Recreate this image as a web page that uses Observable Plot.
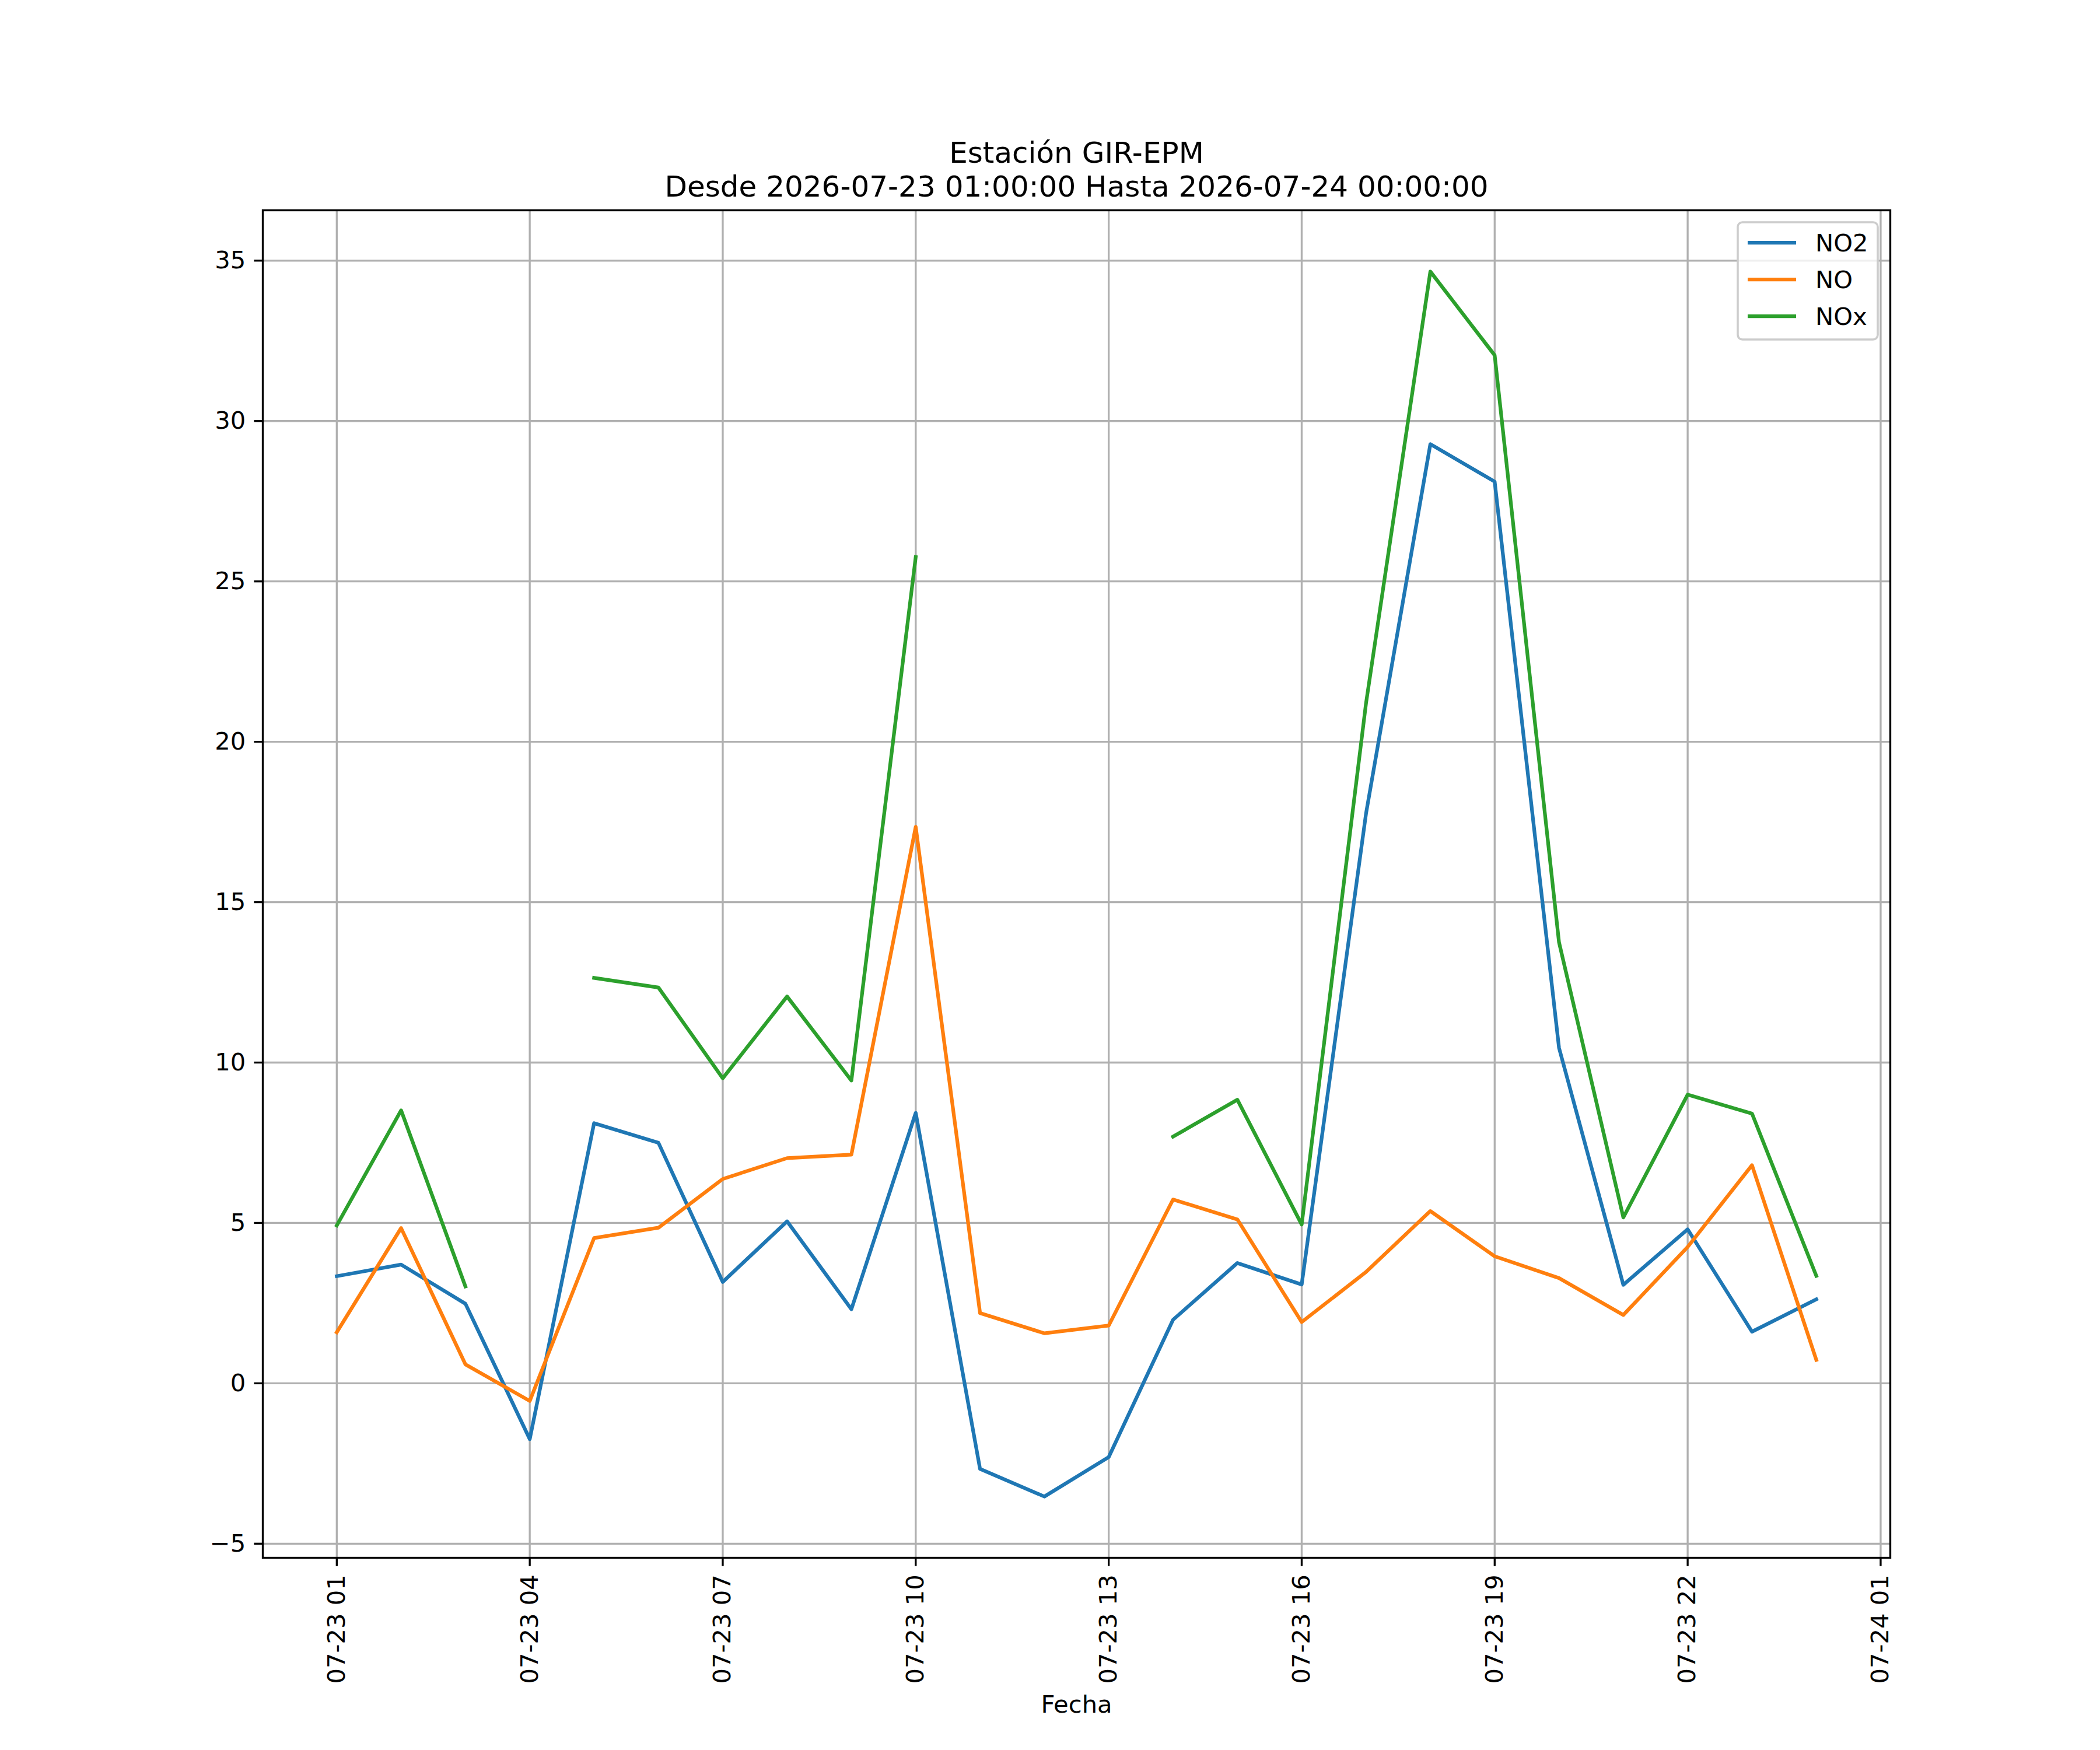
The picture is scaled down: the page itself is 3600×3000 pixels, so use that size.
<!DOCTYPE html>
<html>
<head>
<meta charset="utf-8">
<script src="https://cdn.jsdelivr.net/npm/d3@7"></script>
<script src="https://cdn.jsdelivr.net/npm/@observablehq/plot@0.6"></script>
<style>
  html, body { margin: 0; padding: 0; background: #ffffff; }
  #chart svg { display: block; }
</style>
</head>
<body>
<div id="chart"></div>
<script>
// ---- data ----
const times = [
  "2026-07-23T01:00Z","2026-07-23T02:00Z","2026-07-23T03:00Z","2026-07-23T04:00Z",
  "2026-07-23T05:00Z","2026-07-23T06:00Z","2026-07-23T07:00Z","2026-07-23T08:00Z",
  "2026-07-23T09:00Z","2026-07-23T10:00Z","2026-07-23T11:00Z","2026-07-23T12:00Z",
  "2026-07-23T13:00Z","2026-07-23T14:00Z","2026-07-23T15:00Z","2026-07-23T16:00Z",
  "2026-07-23T17:00Z","2026-07-23T18:00Z","2026-07-23T19:00Z","2026-07-23T20:00Z",
  "2026-07-23T21:00Z","2026-07-23T22:00Z","2026-07-23T23:00Z","2026-07-24T00:00Z"
];
const no2 = [3.34, 3.70, 2.48, -1.74, 8.11, 7.50, 3.16, 5.05, 2.31, 8.43, -2.67, -3.53,
             -2.30, 1.98, 3.75, 3.08, 17.76, 29.28, 28.11, 10.46, 3.07, 4.80, 1.61, 2.62];
const no  = [1.59, 4.84, 0.59, -0.55, 4.53, 4.85, 6.37, 7.02, 7.13, 17.35, 2.19, 1.56,
             1.80, 5.73, 5.11, 1.91, 3.47, 5.37, 3.96, 3.28, 2.13, 4.25, 6.80, 0.73];
const nox = [4.92, 8.51, 3.02, null, 12.64, 12.34, 9.51, 12.06, 9.44, 25.76, null, null,
             null, 7.69, 8.84, 4.95, 21.2, 34.66, 32.05, 13.75, 5.17, 9.00, 8.41, 3.35];

const seriesNames = ["NO2", "NO", "NOx"];
const seriesColors = ["#1f77b4", "#ff7f0e", "#2ca02c"];
const xTickLabels = ["2026-07-23T01:00Z","2026-07-23T04:00Z","2026-07-23T07:00Z","2026-07-23T10:00Z",
                     "2026-07-23T13:00Z","2026-07-23T16:00Z","2026-07-23T19:00Z","2026-07-23T22:00Z",
                     "2026-07-24T01:00Z"];
const yTicks = [-5, 0, 5, 10, 15, 20, 25, 30, 35];
const titleLine1 = "Estación GIR-EPM";
const titleLine2 = "Desde 2026-07-23 01:00:00 Hasta 2026-07-24 00:00:00";
const xLabel = "Fecha";

// ---- table ----
const dates = times.map(t => new Date(t));
const rows = dates.map((d, i) => ({date: d, NO2: no2[i], NO: no[i], NOx: nox[i]}));
const xTicks = xTickLabels.map(t => new Date(t));

// matplotlib-like 5% margins
const xExt = d3.extent(dates);
const xPad = (xExt[1] - xExt[0]) * 0.05;
const allY = [...no2, ...no, ...nox].filter(v => v != null);
const yExt = d3.extent(allY);
const yPad = (yExt[1] - yExt[0]) * 0.05;

const FS = 41.7;
const LW = 6.25;
const GW = 3.33;
const fmtY = d => d < 0 ? "\u2212" + Math.abs(d) : String(d);

const plot = Plot.plot({
  width: 3600,
  height: 3000,
  marginLeft: 450,
  marginRight: 360,
  marginTop: 360,
  marginBottom: 330,
  style: {fontFamily: "DejaVu Sans", fontSize: FS + "px", background: "#ffffff", color: "#000000", overflow: "visible"},
  x: {type: "utc", domain: [new Date(+xExt[0] - xPad), new Date(+xExt[1] + xPad)]},
  y: {type: "linear", domain: [yExt[0] - yPad, yExt[1] + yPad]},
  marks: [
    Plot.gridX(xTicks, {stroke: "#b0b0b0", strokeOpacity: 1, strokeWidth: GW}),
    Plot.gridY(yTicks, {stroke: "#b0b0b0", strokeOpacity: 1, strokeWidth: GW}),
    Plot.line(rows, {x: "date", y: "NO2", stroke: seriesColors[0], strokeWidth: LW, strokeLinecap: "square", strokeLinejoin: "round"}),
    Plot.line(rows, {x: "date", y: "NO", stroke: seriesColors[1], strokeWidth: LW, strokeLinecap: "square", strokeLinejoin: "round"}),
    Plot.line(rows, {x: "date", y: "NOx", stroke: seriesColors[2], strokeWidth: LW, strokeLinecap: "square", strokeLinejoin: "round"}),
    Plot.frame({stroke: "#000000", strokeWidth: GW}),
    Plot.axisX({ticks: xTicks, tickFormat: d3.utcFormat("%m-%d %H"), tickRotate: -90, tickSize: 14.6, tickPadding: 14,
                strokeWidth: GW, label: null, fontSize: FS, fill: "#000000"}),
    Plot.axisY({ticks: yTicks, tickFormat: fmtY, tickSize: 14.6, tickPadding: 14.6, strokeWidth: GW,
                label: null, fontSize: FS, fill: "#000000"}),
    Plot.text([titleLine1], {frameAnchor: "top", dy: -98, fontSize: 50, fill: "#000000", lineAnchor: "middle"}),
    Plot.text([titleLine2], {frameAnchor: "top", dy: -40, fontSize: 50, fill: "#000000", lineAnchor: "middle"}),
    Plot.text([xLabel], {frameAnchor: "bottom", dy: 252, fontSize: FS, fill: "#000000", lineAnchor: "middle"})
  ]
});

document.getElementById("chart").appendChild(plot);

// ---- legend ----
const svg = d3.select(plot);
const lg = svg.append("g").attr("class", "legend").attr("text-anchor", "start");
lg.append("rect")
  .attr("x", 2979).attr("y", 381).attr("width", 240).attr("height", 201)
  .attr("rx", 8).attr("ry", 8)
  .attr("fill", "#ffffff").attr("fill-opacity", 0.8)
  .attr("stroke", "#cccccc").attr("stroke-width", 3.5);
const rowY = [416, 479, 542];
seriesNames.forEach((name, i) => {
  lg.append("line")
    .attr("x1", 2996).attr("x2", 3079).attr("y1", rowY[i]).attr("y2", rowY[i])
    .attr("stroke", seriesColors[i]).attr("stroke-width", LW).attr("stroke-linecap", "butt");
  lg.append("text")
    .attr("x", 3112).attr("y", rowY[i]).attr("dy", "0.36em")
    .attr("text-anchor", "start")
    .attr("font-family", "DejaVu Sans").attr("font-size", FS).attr("fill", "#000000")
    .text(name);
});
</script>
</body>
</html>
